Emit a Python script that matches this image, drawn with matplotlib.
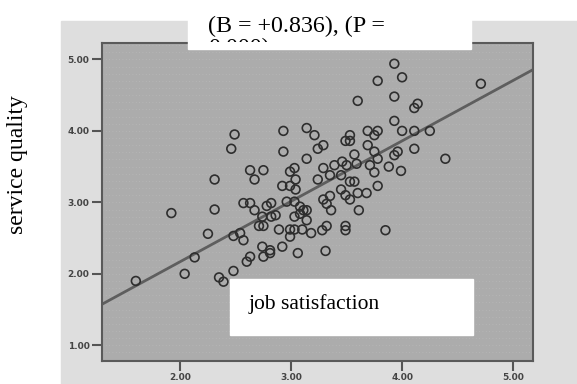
import numpy as np
import matplotlib.pyplot as plt
from matplotlib.patches import Rectangle

# job satisfaction (x) vs service quality (y)
job_sat = [3.60, 2.49, 2.46, 2.93, 2.93, 3.14, 3.21, 3.24, 3.29, 3.14,
           3.53, 3.49, 3.53, 3.69, 3.57, 3.69, 3.03, 2.63, 2.75, 3.29,
           3.39, 3.46, 3.50, 3.59, 3.93, 3.78, 4.00, 4.71, 3.93, 4.14,
           4.11, 3.93, 3.78, 3.75, 4.00, 4.11, 4.25, 4.11, 3.96, 3.93,
           3.75, 3.78, 4.39, 3.71, 3.88, 3.99, 3.75, 3.78, 3.68, 3.85,
           2.31, 1.92, 2.31, 2.25, 2.13, 2.04, 1.60, 2.35, 2.39, 2.48,
           2.48, 2.67, 2.99, 3.04, 2.92, 2.99, 3.04, 3.24, 3.35, 3.45,
           3.53, 3.57, 3.45, 3.49, 3.53, 3.60, 3.61, 3.29, 3.35, 3.32,
           3.36, 2.57, 2.63, 2.67, 2.78, 2.82, 2.82, 2.86, 2.74, 2.96,
           3.03, 3.08, 3.14, 3.11, 3.03, 3.08, 3.14, 2.71, 2.75, 2.89,
           2.99, 3.03, 3.10, 2.99, 3.18, 3.28, 3.32, 3.49, 3.49, 2.54,
           2.57, 2.74, 2.81, 2.81, 2.75, 2.92, 3.06, 3.31, 2.60, 2.63]
serv_q = [4.42, 3.95, 3.75, 4.00, 3.71, 4.04, 3.94, 3.75, 3.80, 3.61,
          3.94, 3.86, 3.86, 4.00, 3.67, 3.80, 3.48, 3.45, 3.45, 3.48,
          3.52, 3.57, 3.52, 3.54, 4.94, 4.70, 4.75, 4.66, 4.48, 4.38,
          4.32, 4.14, 4.00, 3.94, 4.00, 4.00, 4.00, 3.75, 3.71, 3.66,
          3.71, 3.61, 3.61, 3.52, 3.50, 3.44, 3.42, 3.23, 3.13, 2.61,
          3.32, 2.85, 2.90, 2.56, 2.23, 2.00, 1.90, 1.95, 1.89, 2.53,
          2.04, 3.32, 3.43, 3.32, 3.23, 3.23, 3.18, 3.32, 3.38, 3.38,
          3.29, 3.29, 3.18, 3.10, 3.04, 3.13, 2.89, 3.04, 3.09, 2.98,
          2.89, 2.99, 2.99, 2.89, 2.95, 2.99, 2.80, 2.82, 2.80, 3.01,
          3.01, 2.94, 2.89, 2.89, 2.80, 2.84, 2.75, 2.67, 2.67, 2.62,
          2.62, 2.62, 2.62, 2.52, 2.57, 2.61, 2.67, 2.67, 2.61, 2.57,
          2.47, 2.38, 2.33, 2.29, 2.24, 2.38, 2.29, 2.32, 2.17, 2.24]

# fit line as drawn
intercept = 0.48
slope = 0.845

x_ticks = [2.0, 3.0, 4.0, 5.0]
y_ticks = [1.0, 2.0, 3.0, 4.0, 5.0]

W, H = 577, 384
fig = plt.figure(figsize=(W / 100, H / 100), dpi=100)

# light grey panel behind the chart
fig.patches.append(Rectangle((61 / W, 0), 1 - 61 / W, 1 - 21 / H,
                             transform=fig.transFigure, color='#dedede', zorder=0))

ax = fig.add_axes([102 / W, 1 - 361 / H, (533 - 102) / W, (361 - 43) / H])
ax.set_zorder(1)
ax.set_facecolor('#acacac')
ax.set_xlim(1.295, 5.18)
ax.set_ylim(0.78, 5.23)

# faint dotted rows
for yy in np.arange(0.8, 5.25, 0.1):
    ax.axhline(yy, color='#bababa', lw=0.6, ls=(0, (1, 3)), zorder=1)

xs = np.array(ax.get_xlim())
ax.plot(xs, intercept + slope * xs, color='#5e5e5e', lw=2.0, zorder=2)
ax.scatter(job_sat, serv_q, s=40, facecolors='none', edgecolors='#2e2e2e',
           linewidths=1.2, zorder=3)

ax.set_xticks(x_ticks)
ax.set_yticks(y_ticks)
ax.set_xticklabels(['%.2f' % v for v in x_ticks])
ax.set_yticklabels(['%.2f' % v for v in y_ticks])
ax.tick_params(length=7, width=1.5, color='#555555', labelsize=6.5,
               labelcolor='#444444', pad=2)
for lab in ax.get_xticklabels() + ax.get_yticklabels():
    lab.set_fontweight('bold')
for sp in ax.spines.values():
    sp.set_color('#5a5a5a')
    sp.set_linewidth(1.5)

serif = 'Liberation Serif'
fig.text(18 / W, 1 - 165 / H, 'service quality', rotation=90, family=serif,
         fontsize=17, ha='center', va='center')

# white box at the top with the clipped statistics text
fig.patches.append(Rectangle((188 / W, 1 - 49 / H), (471 - 188) / W, 49 / H,
                             transform=fig.transFigure, color='white', zorder=5))
t = fig.text(208 / W, 1 - 53.7 / H, '(B = +0.836), (P =\n0.000)', family=serif,
             fontsize=17.3, ha='left', va='baseline', linespacing=1.05, zorder=6)
t.set_clip_path(Rectangle((188 / W, 1 - 42 / H), (471 - 188) / W, 42 / H,
                          transform=fig.transFigure))

# white box with the x label
fig.patches.append(Rectangle((230 / W, 1 - 335 / H), (473 - 230) / W, (335 - 279) / H,
                             transform=fig.transFigure, color='white', zorder=5))
fig.text(249 / W, 1 - 304 / H, 'job satisfaction', family=serif, fontsize=15.5,
         ha='left', va='center', zorder=6)

fig.savefig('out.png', dpi=100)
